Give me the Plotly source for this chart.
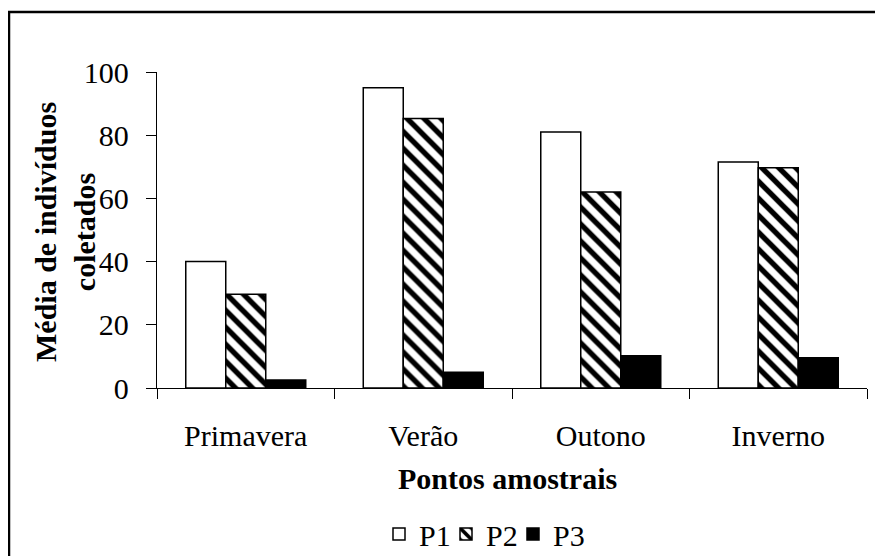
import plotly.graph_objects as go

categories = ["Primavera", "Verão", "Outono", "Inverno"]
p1_values = [40, 95, 81, 71.5]
p2_values = [29.7, 85.3, 62, 69.7]
p3_values = [2.5, 5, 10.2, 9.6]
series_names = ["P1", "P2", "P3"]
y_ticks = [0, 20, 40, 60, 80, 100]

FONT = "Times New Roman, Liberation Serif, Tinos, serif"
FS = 30

OFF = 8  # page body margin offset
W, H = 883 - OFF, 556 - OFF
L, R, T, B = 157 - OFF, 16, 72 - OFF, 168
pw, ph = W - L - R, H - T - B

def px_x(x):
    return (x - OFF - L) / pw

def px_y(y):
    return (H - B - (y - OFF)) / ph

fig = go.Figure()
fig.add_trace(go.Bar(
    name=series_names[0], x=categories, y=p1_values, legend="legend",
    marker=dict(color="white", line=dict(color="black", width=1.5)),
))
fig.add_trace(go.Bar(
    name=series_names[1], x=categories, y=p2_values, legend="legend2",
    marker=dict(color="white", line=dict(color="black", width=1.5),
                pattern=dict(shape="\\", fgcolor="black", bgcolor="white",
                             size=12, solidity=0.45, fillmode="replace")),
))
fig.add_trace(go.Bar(
    name=series_names[2], x=categories, y=p3_values, legend="legend3",
    marker=dict(color="black", line=dict(color="black", width=1.5)),
))

def legend_at(sym_x):
    return dict(orientation="h", x=px_x(sym_x - 14), xanchor="left",
                y=px_y(534), yanchor="middle",
                font=dict(family=FONT, size=FS, color="black"),
                bgcolor="rgba(0,0,0,0)", itemwidth=30)

fig.update_layout(
    width=W, height=H,
    margin=dict(l=L, r=R, t=T, b=B, autoexpand=False),
    paper_bgcolor="white", plot_bgcolor="white",
    barmode="group", bargap=0.324, bargroupgap=0,
    font=dict(family=FONT, size=FS, color="black"),
    showlegend=True,
    legend=legend_at(393),
    legend2=legend_at(460),
    legend3=legend_at(527),
    xaxis=dict(showline=True, linecolor="black", linewidth=1.3,
               ticks="outside", tickson="boundaries", ticklen=10,
               tickcolor="black", tickwidth=1.3, showgrid=False,
               tickfont=dict(family=FONT, size=FS), ticklabelstandoff=21),
    yaxis=dict(range=[0, 100], tickvals=y_ticks, showline=True,
               linecolor="black", linewidth=1.3, ticks="outside",
               ticklen=10, tickcolor="black", tickwidth=1.3,
               showgrid=False, zeroline=False,
               tickfont=dict(family=FONT, size=FS), ticklabelstandoff=11),
    shapes=[dict(type="rect", xref="paper", yref="paper",
                 x0=px_x(9), x1=px_x(900), y0=px_y(580), y1=px_y(12),
                 line=dict(color="black", width=2.5), layer="below")],
    annotations=[
        dict(text="<b>Média de indivíduos<br>coletados</b>", textangle=-90,
             xref="paper", yref="paper", x=px_x(65), y=px_y(232),
             xanchor="center", yanchor="middle", showarrow=False,
             font=dict(family=FONT, size=FS, color="black")),
        dict(text="<b>Pontos amostrais</b>",
             xref="paper", yref="paper", x=px_x(507), y=px_y(478),
             xanchor="center", yanchor="middle", showarrow=False,
             font=dict(family=FONT, size=FS, color="black")),
    ],
)

fig.write_html("out.html")
